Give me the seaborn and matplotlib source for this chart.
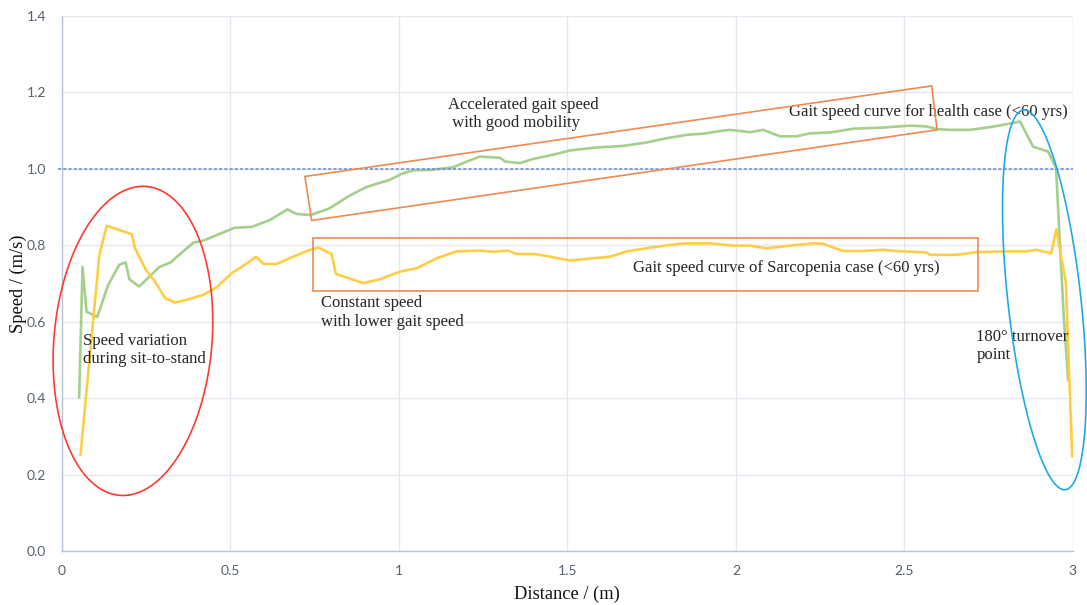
import numpy as np
import pandas as pd
import matplotlib
matplotlib.use("Agg")
import matplotlib.pyplot as plt
from matplotlib.patches import Polygon, Rectangle
import seaborn as sns

# --- data ---
dist_health = [0.051, 0.061, 0.073, 0.105, 0.137, 0.170, 0.189, 0.200, 0.229, 0.289,
               0.322, 0.390, 0.419, 0.474, 0.513, 0.563, 0.617, 0.669, 0.696, 0.738,
               0.795, 0.850, 0.900, 0.934, 0.973, 1.008, 1.042, 1.092, 1.161, 1.201,
               1.240, 1.300, 1.315, 1.359, 1.399, 1.448, 1.507, 1.587, 1.666, 1.735,
               1.794, 1.854, 1.903, 1.962, 1.982, 2.042, 2.081, 2.131, 2.180, 2.220,
               2.279, 2.348, 2.437, 2.516, 2.566, 2.596, 2.635, 2.694, 2.754, 2.823,
               2.843, 2.882, 2.927, 2.950, 2.961, 2.973, 2.986]
speed_health = [0.402, 0.743, 0.626, 0.613, 0.696, 0.749, 0.755, 0.711, 0.692, 0.743,
                0.755, 0.807, 0.812, 0.832, 0.846, 0.848, 0.866, 0.894, 0.882, 0.879,
                0.897, 0.928, 0.951, 0.961, 0.971, 0.987, 0.996, 0.997, 1.004, 1.019,
                1.032, 1.029, 1.019, 1.015, 1.026, 1.035, 1.048, 1.056, 1.060, 1.069,
                1.080, 1.089, 1.092, 1.100, 1.102, 1.096, 1.102, 1.085, 1.085, 1.093,
                1.095, 1.105, 1.108, 1.113, 1.111, 1.104, 1.102, 1.102, 1.109, 1.120,
                1.124, 1.058, 1.045, 1.002, 0.814, 0.613, 0.448]

dist_sarco = [0.055, 0.111, 0.133, 0.207, 0.217, 0.246, 0.276, 0.306, 0.335, 0.370,
              0.419, 0.459, 0.504, 0.543, 0.576, 0.599, 0.637, 0.686, 0.730, 0.761,
              0.800, 0.813, 0.894, 0.944, 1.003, 1.053, 1.112, 1.171, 1.240, 1.280,
              1.324, 1.349, 1.404, 1.438, 1.507, 1.577, 1.626, 1.676, 1.755, 1.834,
              1.864, 1.923, 1.992, 2.042, 2.091, 2.160, 2.229, 2.258, 2.318, 2.377,
              2.437, 2.477, 2.566, 2.576, 2.655, 2.714, 2.803, 2.862, 2.892, 2.936,
              2.951, 2.963, 2.979, 2.998]
speed_sarco = [0.251, 0.775, 0.851, 0.829, 0.792, 0.740, 0.705, 0.662, 0.650, 0.657,
               0.670, 0.690, 0.727, 0.749, 0.770, 0.751, 0.751, 0.770, 0.786, 0.794,
               0.777, 0.725, 0.701, 0.711, 0.731, 0.740, 0.766, 0.784, 0.786, 0.783,
               0.786, 0.777, 0.777, 0.772, 0.760, 0.766, 0.770, 0.784, 0.795, 0.804,
               0.805, 0.805, 0.799, 0.799, 0.792, 0.799, 0.805, 0.804, 0.785, 0.785,
               0.788, 0.785, 0.781, 0.775, 0.775, 0.782, 0.784, 0.784, 0.788, 0.779,
               0.842, 0.779, 0.705, 0.247]

x_ticks = [0, 0.5, 1, 1.5, 2, 2.5, 3]
x_tick_labels = ["0", "0.5", "1", "1.5", "2", "2.5", "3"]
y_ticks = [0.0, 0.2, 0.4, 0.6, 0.8, 1.0, 1.2, 1.4]
y_tick_labels = ["0.0", "0.2", "0.4", "0.6", "0.8", "1.0", "1.2", "1.4"]
ref_speed = 1.0

df_h = pd.DataFrame({"dist": dist_health, "speed": speed_health})
df_s = pd.DataFrame({"dist": dist_sarco, "speed": speed_sarco})

sns.set_theme(style="whitegrid")
plt.rcParams['font.family'] = ['Liberation Serif', 'DejaVu Serif']

fig = plt.figure(figsize=(10.87, 6.05), dpi=100)
left, right, bottom, top = 0.057, 0.987, 0.0893, 0.9736
ax = fig.add_axes([left, bottom, right - left, top - bottom])

GREEN = "#a5cf8c"
YELLOW = "#ffcd45"
ORANGE = "#ef8a50"

sns.lineplot(data=df_h, x="dist", y="speed", ax=ax, color=GREEN, lw=1.9,
             sort=False, estimator=None)
sns.lineplot(data=df_s, x="dist", y="speed", ax=ax, color=YELLOW, lw=1.9,
             sort=False, estimator=None)

# reference line at 1 m/s
ax.plot([-0.012, 3.0], [ref_speed, ref_speed], color="#6a8bd6", lw=1.1,
        ls=(0, (2.2, 1.2)), clip_on=False, zorder=3)

ax.set_xlim(0, 3)
ax.set_ylim(0, 1.4)
ax.set_xticks(x_ticks)
ax.set_xticklabels(x_tick_labels)
ax.set_yticks(y_ticks)
ax.set_yticklabels(y_tick_labels)
ax.grid(True, color="#e4e8f0", lw=1.0)
ax.set_facecolor("white")
for s in ["top", "right"]:
    ax.spines[s].set_visible(False)
for s in ["left", "bottom"]:
    ax.spines[s].set_color("#b8c3d4")
    ax.spines[s].set_linewidth(1.0)
ax.tick_params(axis="both", length=0, labelsize=10, labelcolor="#56616f")
ax.tick_params(axis="y", pad=11.5)
ax.tick_params(axis="x", pad=10)
for lab in ax.get_xticklabels() + ax.get_yticklabels():
    lab.set_family("Lato")

ax.set_xlabel("Distance / (m)", fontsize=13.3, color="#111111")
ax.set_ylabel("Speed / (m/s)", fontsize=13.3, color="#111111")
ax.xaxis.label.set_va("center")
ax.yaxis.label.set_va("center")
ax.xaxis.set_label_coords(0.5, -0.0804)
ax.yaxis.set_label_coords(-0.0435, 0.5)

# --- annotation shapes ---
sx = fig.get_figwidth() * fig.dpi * (right - left) / 3.0
sy = fig.get_figheight() * fig.dpi * (top - bottom) / 1.4


def draw_ellipse(cx, cy, a, b, ang, color):
    t = np.linspace(0, 2 * np.pi, 300)
    th = np.deg2rad(ang)
    ex = cx + (a * np.cos(t) * np.cos(th) - b * np.sin(t) * np.sin(th)) / sx
    ey = cy + (a * np.cos(t) * np.sin(th) + b * np.sin(t) * np.cos(th)) / sy
    ax.plot(ex, ey, color=color, lw=1.2, clip_on=False, zorder=4)


draw_ellipse(0.2107, 0.5497, 155, 79, 85, "#ff3b2f")
draw_ellipse(2.9154, 0.6571, 191, 36.5, 96.3, "#1ea9ea")

ax.add_patch(Polygon([(0.721, 0.980), (0.741, 0.865), (2.597, 1.102), (2.581, 1.217)],
                     closed=True, fill=False, ec=ORANGE, lw=1.2, zorder=4))
ax.add_patch(Rectangle((0.746, 0.681), 2.719 - 0.746, 0.820 - 0.681,
                       fill=False, ec=ORANGE, lw=1.2, zorder=4))

# --- text notes ---
fs = 12
ls = 1.2
ax.text(0.061, 0.526, "Speed variation\nduring sit-to-stand", fontsize=fs, va="center", ha="left", linespacing=ls)
ax.text(0.769, 0.624, "Constant speed\nwith lower gait speed", fontsize=fs, va="center", ha="left", linespacing=ls)
ax.text(1.1445, 1.144, "Accelerated gait speed\n with good mobility", fontsize=fs, va="center", ha="left", linespacing=ls)
ax.text(2.158, 1.149, "Gait speed curve for health case (<60 yrs)", fontsize=fs, va="center", ha="left")
ax.text(1.694, 0.741, "Gait speed curve of Sarcopenia case (<60 yrs)", fontsize=fs, va="center", ha="left")
ax.text(2.714, 0.537, "180° turnover\npoint", fontsize=fs, va="center", ha="left", linespacing=ls)

fig.savefig("out.png", dpi=100)
